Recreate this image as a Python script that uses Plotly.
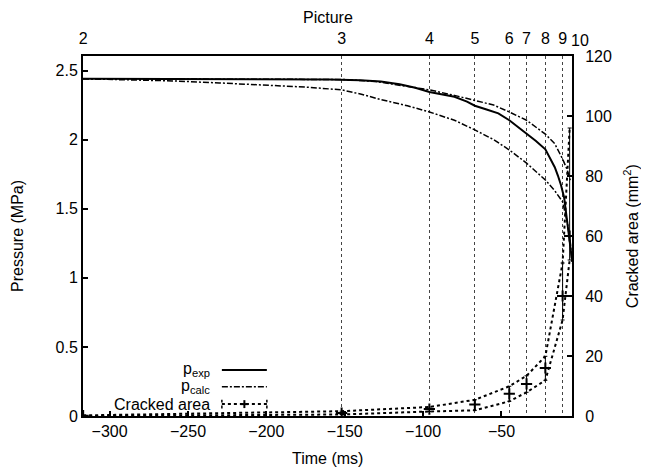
""" pressure and cracked area vs time, with picture markers on top """

import numpy as np
import plotly.graph_objects as go

# picture numbers on the top axis (time of each picture, ms)
picture_times = [-316.9, -152, -96, -67, -45, -34, -22, -11, -6.5]
picture_labels = ["2", "3", "4", "5", "6", "7", "8", "9", "10"]

# measured pressure (MPa)
t_exp = [-317, -250, -200, -160, -140, -127, -115, -105, -96, -88, -80, -72, -67, -60, -52,
         -45, -38, -34, -28, -22, -19, -16, -14, -12, -10, -8.5, -7, -6, -5]
p_exp = [2.44, 2.44, 2.44, 2.435, 2.43, 2.42, 2.40, 2.375, 2.345, 2.325, 2.31, 2.275, 2.245, 2.22, 2.19,
         2.14, 2.08, 2.045, 1.99, 1.93, 1.87, 1.8, 1.74, 1.67, 1.58, 1.45, 1.33, 1.24, 1.13]

# calculated pressure, upper and lower bound (MPa)
t_calc_hi = [-317, -200, -150, -130, -115, -96, -80, -67, -55, -45, -34, -22, -16, -11, -8, -6]
p_calc_hi = [2.44, 2.44, 2.435, 2.42, 2.395, 2.36, 2.32, 2.286, 2.25, 2.2, 2.14, 2.04, 1.97, 1.86, 1.78, 1.7]
t_calc_lo = [-317, -290, -260, -230, -200, -175, -152, -140, -127, -110, -96, -80, -67, -55, -45,
             -34, -22, -16, -11, -8, -6, -5]
p_calc_lo = [2.44, 2.435, 2.425, 2.41, 2.395, 2.38, 2.36, 2.33, 2.29, 2.245, 2.2, 2.14, 2.07, 2.0, 1.925,
             1.83, 1.708, 1.63, 1.55, 1.4, 1.25, 1.1]

# cracked area at each picture (mm2): mean, max, min
crack_mid = [0.1, 1.0, 2.3, 3.8, 7.4, 10.7, 16, 40, 60]
crack_hi = [0.2, 1.6, 3.0, 5.4, 9.9, 13.4, 19.9, 51, 96]
crack_lo = [0.0, 0.5, 1.5, 1.9, 4.9, 7.9, 11.9, 32, 52]

FONT = "Liberation Sans, Arial, sans-serif"
FS = 16
T_RANGE = [-317, -5]

fig = go.Figure()
fig.add_trace(go.Scatter(x=t_exp, y=p_exp, mode="lines", line=dict(color="black", width=2)))
fig.add_trace(go.Scatter(x=t_calc_hi, y=p_calc_hi, mode="lines",
                         line=dict(color="black", width=1.5, dash="6px,2px,2px,2px")))
fig.add_trace(go.Scatter(x=t_calc_lo, y=p_calc_lo, mode="lines",
                         line=dict(color="black", width=1.5, dash="6px,2px,2px,2px")))

# cracked area on the right / top axes
mid = np.array(crack_mid)
fig.add_trace(go.Scatter(x=picture_times, y=crack_hi, mode="lines", xaxis="x2", yaxis="y2",
                         line=dict(color="black", width=2, dash="dot")))
fig.add_trace(go.Scatter(x=picture_times, y=crack_lo, mode="lines", xaxis="x2", yaxis="y2",
                         line=dict(color="black", width=2, dash="dot")))
fig.add_trace(go.Scatter(
    x=picture_times, y=crack_mid, mode="markers", xaxis="x2", yaxis="y2",
    marker=dict(symbol="cross-thin", size=8, line=dict(color="black", width=2)),
    error_y=dict(type="data", symmetric=False, array=np.array(crack_hi) - mid,
                 arrayminus=mid - np.array(crack_lo), color="black", thickness=1, width=2),
))

axis_common = dict(showline=True, linecolor="black", linewidth=2, zeroline=False, automargin=False,
                   tickfont=dict(size=FS, color="black"), ticks="inside", ticklen=5,
                   tickwidth=1.5, tickcolor="black", showgrid=False)

# the page body adds 8px around the figure, so margins are shifted by that much
fig.update_layout(
    template="none",
    width=649, height=470,
    margin=dict(l=75, r=85, t=48, b=62),
    paper_bgcolor="white", plot_bgcolor="white",
    font=dict(family=FONT, size=FS, color="black"),
    showlegend=False,
    xaxis=dict(range=T_RANGE, tickvals=[-300, -250, -200, -150, -100, -50], mirror=True, **axis_common),
    xaxis2=dict(range=T_RANGE, overlaying="x", side="top", tickvals=picture_times[:-1],
                ticktext=picture_labels[:-1], showline=False, zeroline=False, ticks="", automargin=False,
                ticklabelstandoff=8, tickfont=dict(size=FS, color="black"), showgrid=True,
                gridcolor="#444", gridwidth=1, griddash="dot"),
    yaxis=dict(range=[0, 2.605], tickvals=[0, 0.5, 1, 1.5, 2, 2.5],
               ticktext=["0", "0.5", "1", "1.5", "2", "2.5"], mirror=True, **axis_common),
    yaxis2=dict(range=[0, 120], overlaying="y", side="right", tickvals=[0, 20, 40, 60, 80, 100, 120],
                ticklabelstandoff=8, **axis_common),
)

# axis titles placed where the original has them
titles = [
    ("Time (ms)", 0.501, -0.117, 0),
    ("Picture", 0.501, 1.108, 0),
    ("Pressure (MPa)", -0.135, 0.5, -90),
    ("Cracked area (mm<sup>2</sup>)", 1.121, 0.5, -90),
]
for txt, xx, yy, ang in titles:
    fig.add_annotation(x=xx, y=yy, xref="paper", yref="paper", text=txt, showarrow=False,
                       textangle=ang, xanchor="center", yanchor="middle", font=dict(size=FS))

# "10" label sits a little right of the frame in the original
fig.add_annotation(x=1.016, y=1.044, xref="paper", yref="paper", text=picture_labels[-1], showarrow=False,
                   xanchor="center", yanchor="middle", font=dict(size=FS))

# hand-made legend (text left of the sample, like gnuplot)
legend_rows = [("p<sub>exp</sub>", 0.128), ("p<sub>calc</sub>", 0.081), ("Cracked area", 0.033)]
x0, x1 = 0.284, 0.376
for txt, yy in legend_rows:
    fig.add_annotation(x=0.264, y=yy, xref="paper", yref="paper", text=txt, showarrow=False,
                       xanchor="right", yanchor="middle", font=dict(size=FS))
line_kw = dict(xref="paper", yref="paper", type="line")
fig.add_shape(x0=x0, x1=x1, y0=0.128, y1=0.128, line=dict(color="black", width=2), **line_kw)
fig.add_shape(x0=x0, x1=x1, y0=0.081, y1=0.081, line=dict(color="black", width=1.5, dash="6px,2px,2px,2px"),
              **line_kw)
fig.add_shape(x0=x0, x1=x1, y0=0.033, y1=0.033, line=dict(color="black", width=2, dash="dot"), **line_kw)
xc = (x0 + x1) / 2
fig.add_shape(x0=xc - 0.008, x1=xc + 0.008, y0=0.033, y1=0.033, line=dict(color="black", width=2), **line_kw)
fig.add_shape(x0=xc, x1=xc, y0=0.033 - 0.011, y1=0.033 + 0.011, line=dict(color="black", width=2), **line_kw)
for xe in (x0, x1):
    fig.add_shape(x0=xe, x1=xe, y0=0.033 - 0.012, y1=0.033 + 0.012, line=dict(color="black", width=1.5, dash="dot"),
                  **line_kw)

fig.write_html("out.html")
